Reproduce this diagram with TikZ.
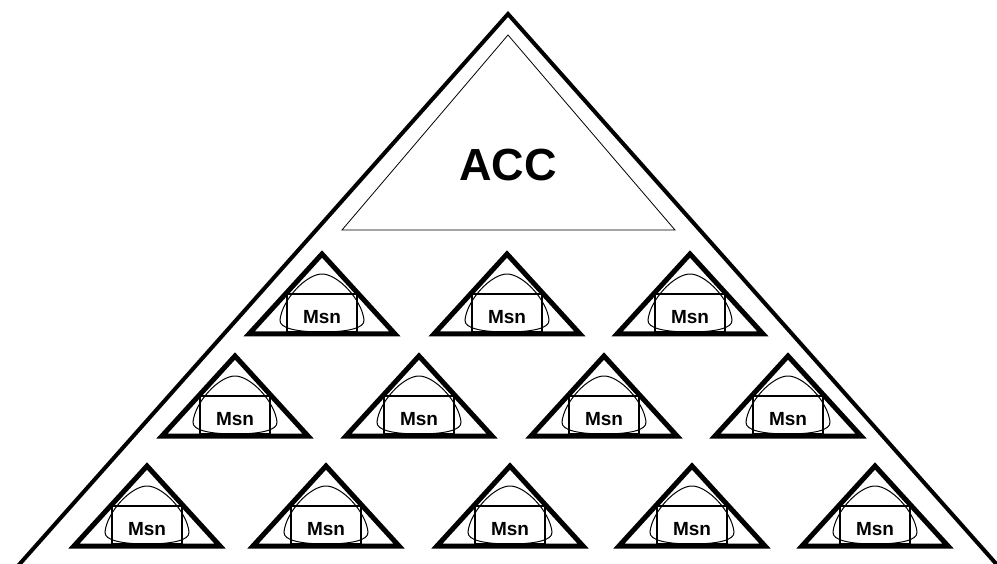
\documentclass[tikz,border=0pt]{standalone}
\usepackage{fontspec}
\setmainfont{Liberation Sans}
\begin{document}
\begin{tikzpicture}[x=1pt,y=-1pt,
  bigtri/.style={line width=4pt, line join=miter},
  acctri/.style={line width=0.8pt, line join=miter},
  unittri/.style={line width=5pt, line join=miter},
  unitbox/.style={line width=1.8pt},
  unitcurve/.style={line width=1pt},
  acclabel/.style={font=\bfseries\fontsize{45}{45}\selectfont, inner sep=0pt},
  msnlabel/.style={font=\bfseries\fontsize{19}{19}\selectfont, inner sep=0pt}]
\useasboundingbox (0,0) rectangle (997,564);
\clip (0,0) rectangle (997,564);
\coordinate (bl) at (17,567);
\coordinate (top) at (508,14);
\coordinate (br) at (999,567);
\draw[bigtri] (bl) -- (top) -- (br);
\coordinate (a1c) at (508,35);
\coordinate (a2c) at (342,230);
\coordinate (a3c) at (675,230);
\draw[acctri] (a1c) -- (a2c) -- (a3c) -- cycle;
\node[acclabel] (acc) at (508,165) {ACC};
\foreach \cx/\b/\nm in {322/334/m1, 507/334/m2, 690/334/m3,
                         235/436/m4, 419/436/m5, 604/436/m6, 788/436/m7,
                         147/546/m8, 326/546/m9, 510/546/m10, 692/546/m11, 875/546/m12}{
  \draw[unittri] (\cx-73,\b) -- (\cx,\b-80) -- (\cx+73,\b) -- cycle;
  \draw[unitbox] (\cx-35,\b-2) rectangle (\cx+35,\b-40);
  \draw[unitcurve] (\cx,\b-60) .. controls (\cx+16,\b-60) and (\cx+40,\b-34) .. (\cx+42,\b-14)
     .. controls (\cx+43,\b-5) and (\cx+22,\b-2) .. (\cx,\b-2)
     .. controls (\cx-22,\b-2) and (\cx-43,\b-5) .. (\cx-42,\b-14)
     .. controls (\cx-40,\b-34) and (\cx-16,\b-60) .. (\cx,\b-60);
  \node[msnlabel] (\nm) at (\cx,\b-17) {Msn};
}
\end{tikzpicture}
\end{document}
